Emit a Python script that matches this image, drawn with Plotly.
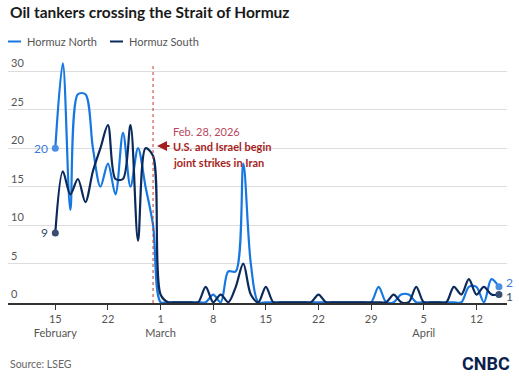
import pandas as pd
import plotly.graph_objects as go

# ---------------- data ----------------
dates = pd.date_range("2026-02-15", "2026-04-15", freq="D")

north_feb = [20, 31, 12, 27, 27, 20, 15, 18, 14, 22, 15, 20, 15, 10]
north_mar = [0, 0, 0, 0, 0, 0, 0, 1, 0, 4, 4, 18, 5,
             0, 0, 0, 0, 0, 0, 0, 0, 0, 0, 0, 0, 0, 0, 0, 0, 2, 0]
north_apr = [0, 1, 1, 0, 0, 0, 0, 0, 0, 0, 2, 2, 0, 3, 2]

south_feb = [9, 17, 14, 16, 13, 17, 20, 23, 16, 16, 23, 8, 20, 19]
south_mar = [1, 0, 0, 0, 0, 0, 2, 0, 1, 0, 2, 5, 1, 0, 2,
             0, 0, 0, 0, 0, 0, 1, 0, 0, 0, 0, 0, 0, 0, 0, 0]
south_apr = [1, 0, 0, 2, 0, 0, 0, 0, 2, 1, 3, 1, 2, 1, 1]

north = north_feb + north_mar + north_apr
south = south_feb + south_mar + south_apr

tick_dates = ["2026-02-15", "2026-02-22", "2026-03-01", "2026-03-08", "2026-03-15",
              "2026-03-22", "2026-03-29", "2026-04-05", "2026-04-12"]
tick_text = ["15<br>February", "22", "1<br>March", "8", "15", "22", "29", "5<br>April", "12"]
y_ticks = [0, 5, 10, 15, 20, 25, 30]

event_date = "2026-02-28"
series_names = ["Hormuz North", "Hormuz South"]

# ---------------- style ----------------
BLUE = "#1677E0"
NAVY = "#0B2A5B"
BLUE_LBL = "#3A7BDA"
NAVY_LBL = "#3C4A63"
RED = "#A51E1E"
FONT = "Lato"

# body margin is removed by the post script, so figure pixel = window pixel
W, H = 519, 378
L, R, T, B = 8, 12, 55, 75
PW, PH = W - L - R, H - T - B


def py(p):
    """window pixel y -> paper y"""
    return (H - B - p) / PH


def px(p):
    """window pixel x -> paper x"""
    return (p - L) / PW


fig = go.Figure()

fig.add_trace(go.Scatter(x=dates, y=north, mode="lines", name=series_names[0],
                         line=dict(color=BLUE, width=2.2, shape="spline", smoothing=0.9),
                         showlegend=False, hoverinfo="skip"))
fig.add_trace(go.Scatter(x=dates, y=south, mode="lines", name=series_names[1],
                         line=dict(color=NAVY, width=2.2, shape="spline", smoothing=0.9),
                         showlegend=False, hoverinfo="skip"))

# start / end markers
fig.add_trace(go.Scatter(x=[dates[0], dates[-1]], y=[north[0], north[-1]], mode="markers",
                         marker=dict(color="#4A8FE3", size=7), cliponaxis=False,
                         showlegend=False, hoverinfo="skip"))
fig.add_trace(go.Scatter(x=[dates[0], dates[-1]], y=[south[0], south[-1]], mode="markers",
                         marker=dict(color="#3A4D70", size=7), cliponaxis=False,
                         showlegend=False, hoverinfo="skip"))

shapes = [
    # event line
    dict(type="line", xref="x", yref="paper", x0=event_date, x1=event_date,
         y0=0, y1=py(64), line=dict(color="#C0392B", width=1, dash="dot")),
    # custom legend symbols
    dict(type="line", xref="paper", yref="paper", x0=px(8), x1=px(21), y0=py(41.5), y1=py(41.5),
         line=dict(color=BLUE, width=2)),
    dict(type="line", xref="paper", yref="paper", x0=px(110), x1=px(123), y0=py(41.5), y1=py(41.5),
         line=dict(color=NAVY, width=2)),
]

annotations = [
    dict(text="<b>Oil tankers crossing the Strait of Hormuz</b>", xref="paper", yref="paper",
         x=px(7.5), y=py(12), xanchor="left", yanchor="middle", showarrow=False,
         font=dict(size=15.5, color="#1A1A1A", family=FONT)),
    dict(text=series_names[0], xref="paper", yref="paper", x=px(24.5), y=py(41.5),
         xanchor="left", yanchor="middle", showarrow=False,
         font=dict(size=11, color="#555555", family=FONT)),
    dict(text=series_names[1], xref="paper", yref="paper", x=px(126.5), y=py(41.5),
         xanchor="left", yanchor="middle", showarrow=False,
         font=dict(size=11, color="#555555", family=FONT)),
    # value labels at the ends of the lines
    dict(text=str(north[0]), x=dates[0], y=north[0], xref="x", yref="y", xanchor="right",
         yanchor="middle", xshift=-5, showarrow=False,
         font=dict(size=12, color=BLUE_LBL, family=FONT)),
    dict(text=str(south[0]), x=dates[0], y=south[0], xref="x", yref="y", xanchor="right",
         yanchor="middle", xshift=-5, showarrow=False,
         font=dict(size=12, color=NAVY_LBL, family=FONT)),
    dict(text=str(north[-1]), x=dates[-1], y=north[-1], xref="x", yref="y", xanchor="left",
         yanchor="middle", xshift=5, yshift=4, showarrow=False,
         font=dict(size=12, color=BLUE_LBL, family=FONT)),
    dict(text=str(south[-1]), x=dates[-1], y=south[-1], xref="x", yref="y", xanchor="left",
         yanchor="middle", xshift=5, yshift=-2, showarrow=False,
         font=dict(size=12, color=NAVY_LBL, family=FONT)),
    # event annotation
    dict(text="Feb. 28, 2026", xref="paper", yref="paper", x=px(171), y=py(131),
         xanchor="left", yanchor="middle", showarrow=False,
         font=dict(size=11, color="#B8475E", family=FONT)),
    dict(text="<b>U.S. and Israel begin</b>", xref="paper", yref="paper", x=px(171), y=py(146.5),
         xanchor="left", yanchor="middle", showarrow=False,
         font=dict(size=11, color=RED, family=FONT)),
    dict(text="<b>joint strikes in Iran</b>", xref="paper", yref="paper", x=px(171), y=py(162),
         xanchor="left", yanchor="middle", showarrow=False,
         font=dict(size=11, color=RED, family=FONT)),
    dict(text="", xref="paper", yref="paper", x=px(157), y=py(146), ax=14, ay=0,
         showarrow=True, arrowhead=2, arrowsize=1, arrowwidth=2, arrowcolor=RED),
    # footer
    dict(text="Source: LSEG", xref="paper", yref="paper", x=px(8), y=py(364),
         xanchor="left", yanchor="middle", showarrow=False,
         font=dict(size=10.5, color="#666666", family=FONT)),
    dict(text="<b>CNBC</b>", xref="paper", yref="paper", x=px(512), y=py(363.5),
         xanchor="right", yanchor="middle", showarrow=False,
         font=dict(size=18, color="#0B1F4D", family="Roboto")),
]

fig.update_layout(
    width=W, height=H,
    margin=dict(l=L, r=R, t=T, b=B, pad=0),
    paper_bgcolor="white", plot_bgcolor="white",
    font=dict(family=FONT, size=11, color="#555555"),
    shapes=shapes, annotations=annotations,
    showlegend=False,
)

fig.update_xaxes(
    type="date",
    range=["2026-02-08 17:00", "2026-04-16 01:40"],
    tickvals=tick_dates, ticktext=tick_text,
    ticks="outside", ticklen=5, tickcolor="#333333", tickwidth=1,
    showline=True, linecolor="#333333", linewidth=1.5,
    showgrid=False, zeroline=False, layer="below traces",
    tickfont=dict(size=11, color="#555555", family=FONT),
)
fig.update_yaxes(
    range=[-0.1, 32.1],
    tickvals=y_ticks,
    ticklabelposition="inside top",
    showgrid=True, gridcolor="#DDDDDD", gridwidth=1,
    zeroline=False, showline=False, ticks="",
    tickfont=dict(size=11, color="#555555", family=FONT),
)

fig.write_html("out.html", config={"displayModeBar": False},
               post_script="document.body.style.margin='0';")
